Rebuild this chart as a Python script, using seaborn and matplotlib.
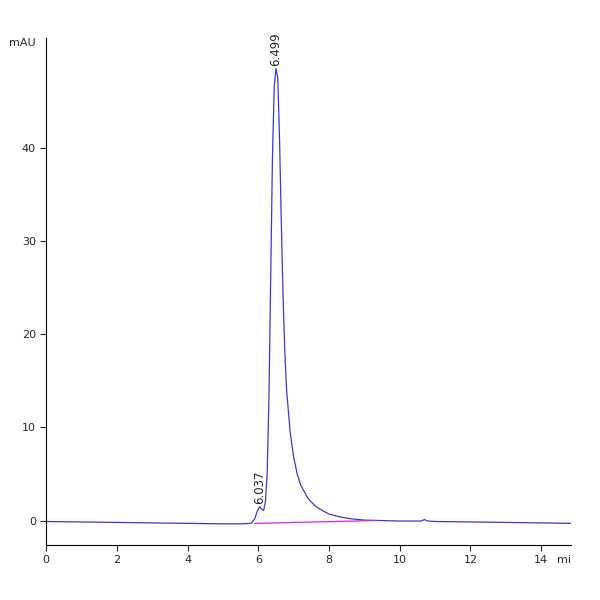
import matplotlib
matplotlib.use("Agg")
import matplotlib.pyplot as plt
import seaborn as sns
import pandas as pd

time = [0, 1, 2, 3, 4, 5, 5.5, 5.8, 5.9, 5.97, 6.037, 6.1, 6.15, 6.2, 6.25, 6.3, 6.35, 6.4, 6.45, 6.499,
        6.55, 6.6, 6.65, 6.7, 6.75, 6.8, 6.9, 7.0, 7.1, 7.2, 7.4, 7.6, 7.8, 8.0, 8.3, 8.6, 9.0, 9.5,
        10, 10.6, 10.7, 10.8, 11, 12, 13, 14, 14.85]
mau = [-0.1, -0.15, -0.2, -0.25, -0.3, -0.35, -0.35, -0.3, 0.2, 1.0, 1.5, 1.2, 1.1, 2.0, 5.0, 13, 26, 39, 46.5, 48.5,
       47.5, 41, 32, 24, 18, 14, 9.5, 6.8, 5.0, 3.8, 2.4, 1.6, 1.1, 0.7, 0.4, 0.2, 0.05, 0.0,
       -0.05, -0.05, 0.1, -0.05, -0.1, -0.15, -0.2, -0.25, -0.3]
base_t = [5.9, 9.3]
base_v = [-0.3, 0.0]
peak_t = [6.037, 6.499]
peak_v = [1.5, 48.5]
peak_lbl = ["6.037", "6.499"]

sns.set_style("white")
fig = plt.figure(figsize=(6, 6), dpi=100)
ax = fig.add_axes([0.077, 0.092, 0.875, 0.845])
df = pd.DataFrame({"t": time, "v": mau})
sns.lineplot(data=df, x="t", y="v", ax=ax, color="#3a3ad0", linewidth=0.9)
sns.lineplot(x=base_t, y=base_v, ax=ax, color="#e020e0", linewidth=0.9)
for t, v, l in zip(peak_t, peak_v, peak_lbl):
    ax.text(t, v + 0.3, l, rotation=90, ha="center", va="bottom", fontsize=8.5)
ax.set_xlim(0, 14.85)
ax.set_ylim(-2.6, 51.8)
ax.set_xticks(range(0, 15, 2))
ax.set_yticks(range(0, 50, 10))
ax.tick_params(axis="both", direction="out", length=4, labelsize=8, bottom=True, left=True)
ax.set_xlabel("")
ax.set_ylabel("")
for s in ["top", "right"]:
    ax.spines[s].set_visible(False)
for s in ["left", "bottom"]:
    ax.spines[s].set_color("black")
    ax.spines[s].set_linewidth(0.8)
ax.text(-0.02, 1.0, "mAU", transform=ax.transAxes, ha="right", va="top", fontsize=8)
ax.text(1.0, -0.02, "mi", transform=ax.transAxes, ha="right", va="top", fontsize=8)
fig.savefig("out.png", dpi=100)
